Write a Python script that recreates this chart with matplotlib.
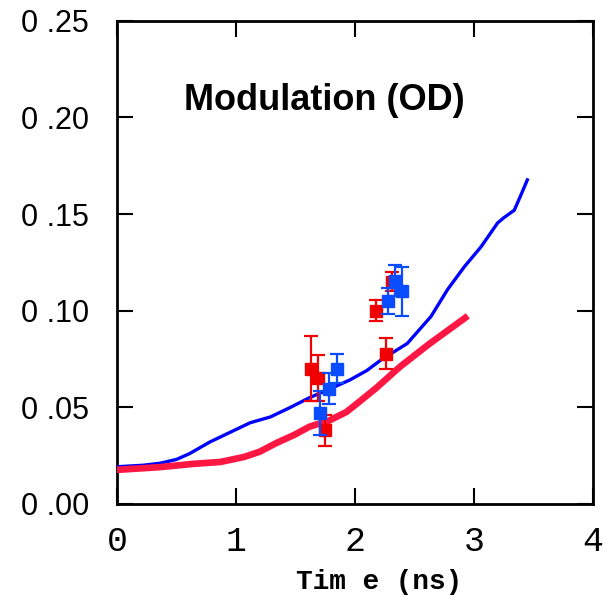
import numpy as np
import matplotlib
matplotlib.use("Agg")
from matplotlib import pyplot as plt

# model curves (time in ns, modulation in OD)
blue_t = [0.0, 0.22, 0.36, 0.5, 0.61, 0.78, 0.95, 1.12, 1.29, 1.45, 1.62, 1.79,
          1.96, 2.1, 2.22, 2.44, 2.64, 2.78, 2.92, 3.06, 3.2, 3.25, 3.34, 3.39, 3.45]
blue_y = [0.0192, 0.020, 0.021, 0.023, 0.026, 0.032, 0.037, 0.042, 0.045, 0.0497,
          0.055, 0.0595, 0.0642, 0.069, 0.0745, 0.083, 0.097, 0.111, 0.1227, 0.133,
          0.1454, 0.148, 0.152, 0.159, 0.1677]
red_t = [0.0, 0.36, 0.64, 0.87, 1.07, 1.2, 1.34, 1.49, 1.62, 1.78, 1.93, 2.04,
         2.18, 2.38, 2.63, 2.95]
red_y = [0.0176, 0.019, 0.0207, 0.0217, 0.0243, 0.027, 0.0315, 0.0357, 0.040,
         0.043, 0.0476, 0.053, 0.060, 0.071, 0.083, 0.0973]

# measured points with error bars
red_pt_t = [1.63, 1.69, 1.75, 2.18, 2.26, 2.31]
red_pt_y = [0.070, 0.065, 0.038, 0.100, 0.0776, 0.115]
red_pt_e = [0.017, 0.012, 0.008, 0.0055, 0.008, 0.005]
blue_pt_t = [1.71, 1.78, 1.85, 2.28, 2.34, 2.40]
blue_pt_y = [0.047, 0.0595, 0.070, 0.105, 0.1155, 0.110]
blue_pt_e = [0.0115, 0.008, 0.0075, 0.0065, 0.008, 0.0125]

xticks = [0, 1, 2, 3, 4]
yticks = [0.0, 0.05, 0.10, 0.15, 0.20, 0.25]
ylabels = ["0 .00", "0 .05", "0 .10", "0 .15", "0 .20", "0 .25"]

fig = plt.figure(figsize=(6.03, 5.97), dpi=100)
ax = fig.add_axes([0.194, 0.156, 0.789, 0.809])

ax.plot(blue_t, blue_y, color="#0000ff", lw=2.4, zorder=3)
ax.plot(red_t, red_y, color="#ff1744", lw=4.8, solid_capstyle="butt", zorder=3)

ax.errorbar(red_pt_t, red_pt_y, yerr=red_pt_e, fmt="s", color="#f00000",
            ms=8, elinewidth=1.6, capsize=5, capthick=1.6, zorder=4)
ax.errorbar(blue_pt_t, blue_pt_y, yerr=blue_pt_e, fmt="s", color="#0a4cff",
            ms=8, elinewidth=1.6, capsize=5, capthick=1.6, zorder=5)

ax.set_xlim(0, 4)
ax.set_ylim(0, 0.25)
ax.set_xticks(xticks)
ax.set_xticklabels([str(t) for t in xticks], family="Liberation Mono", fontsize=25)
ax.set_yticks(yticks)
ax.set_yticklabels(ylabels, family="Liberation Sans", fontsize=22)
ax.tick_params(direction="in", length=11.5, width=1.5, top=True, right=True)
ax.tick_params(axis="x", pad=15)
ax.tick_params(axis="y", pad=20)
for s in ax.spines.values():
    s.set_linewidth(2)

ax.set_xlabel("Tim e (ns)", family="Liberation Mono", fontweight="bold",
              fontsize=20)
ax.xaxis.set_label_coords(0.55, -0.135)
ax.text(0.435, 0.835, "Modulation (OD)", transform=ax.transAxes, ha="center",
        va="center", family="Liberation Sans", fontweight="bold", fontsize=26)

fig.savefig("out.png", dpi=100)
